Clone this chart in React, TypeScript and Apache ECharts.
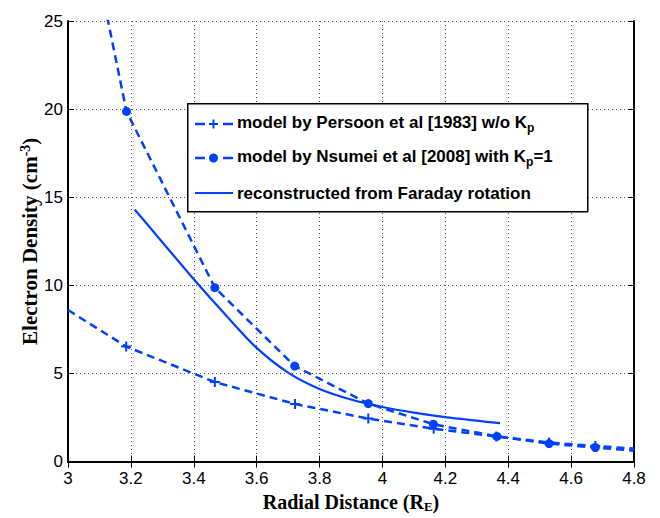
import React, { useEffect, useRef } from 'react';
import * as echarts from 'echarts';

// ---- data ----
const xTicks = [3, 4.8, 0.2]; // min, max, step
const yTicks = [0, 25, 5];

const persoonX = [3.0, 3.185, 3.467, 3.722, 3.955, 4.163, 4.362, 4.53, 4.677, 4.8];
const persoonY = [8.6, 6.53, 4.51, 3.27, 2.44, 1.86, 1.43, 1.08, 0.88, 0.74];
const persoonMarked = [false, true, true, true, true, true, true, true, true, false];

const nsumeiX = [3.1, 3.186, 3.467, 3.721, 3.955, 4.162, 4.364, 4.53, 4.677, 4.8];
const nsumeiY = [27.4, 19.87, 9.87, 5.42, 3.29, 2.12, 1.43, 1.02, 0.8, 0.62];
const nsumeiMarked = [false, true, true, true, true, true, true, true, true, false];

const faradayX = [3.212, 3.3, 3.4, 3.5, 3.6, 3.7, 3.8, 3.9, 4.0, 4.1, 4.2, 4.3, 4.374];
const faradayY = [14.3, 12.45, 10.35, 8.35, 6.45, 5.05, 4.12, 3.52, 3.1, 2.78, 2.52, 2.32, 2.18];

const seriesNames = ['persoon', 'nsumei', 'faraday'];
const legendLabels: Record<string, string> = {
  persoon: '{t|model by Persoon et al [1983] w/o K}{s|p}',
  nsumei: '{t|model by Nsumei et al [2008] with K}{s|p}{t|=1}',
  faraday: '{t|reconstructed from Faraday rotation}',
};

const BLUE = '#0040ff';
const PLUS = 'path://M4,0H6V4H10V6H6V10H4V6H0V4H4Z';

function buildData(xs: number[], ys: number[], marked?: boolean[]) {
  return xs.map((x, i) =>
    marked && !marked[i] ? { value: [x, ys[i]], symbol: 'none' } : { value: [x, ys[i]] }
  );
}

const fmt = (v: number) => String(Math.round(v * 10) / 10);

export default function App() {
  const ref = useRef<HTMLDivElement>(null);
  useEffect(() => {
    const chart = echarts.init(ref.current!, null, { renderer: 'svg' });
    const axisLine = { show: true, lineStyle: { color: '#000', width: 2 } };
    const axisTick = { show: true, inside: true, length: 6, lineStyle: { color: '#000', width: 1 } };
    const labelStyle = { color: '#000', fontSize: 17, fontFamily: 'Liberation Sans' };
    const split = { show: true, lineStyle: { type: [1, 3], color: '#555', width: 1 } };
    const titleStyle = (fs: number) => ({
      fontFamily: 'Liberation Serif',
      fontWeight: 'bold',
      fontSize: fs,
      color: '#000',
      rich: {
        t: { fontFamily: 'Liberation Serif', fontWeight: 'bold', fontSize: fs, color: '#000' },
        sup: { fontFamily: 'Liberation Serif', fontWeight: 'bold', fontSize: 14, color: '#000', verticalAlign: 'top', padding: [0, 0, 10, 0] },
        sub: { fontFamily: 'Liberation Serif', fontWeight: 'bold', fontSize: 13, color: '#000', verticalAlign: 'bottom', padding: [10, 0, 0, 0] },
      },
    });
    const legendText = {
      fontFamily: 'Liberation Sans', fontWeight: 'bold', fontSize: 17, color: '#000',
      rich: {
        t: { fontFamily: 'Liberation Sans', fontWeight: 'bold', fontSize: 17, color: '#000' },
        s: { fontFamily: 'Liberation Sans', fontWeight: 'bold', fontSize: 12, color: '#000', verticalAlign: 'bottom', padding: [11, 0, 0, 0] },
      },
    };
    // legend layout (decoration only)
    const rowY = [124, 158, 193];
    const legendRowTops = [114, 148, 185];
    const iconX0 = 195;
    const iconX1 = 233;
    const iconMid = 213.5;
    const legendIcons: any[] = [];
    rowY.forEach((y, i) => {
      if (i < 2) {
        legendIcons.push(
          { type: 'line', z: 12, shape: { x1: iconX0, y1: y, x2: iconX0 + 10, y2: y }, style: { stroke: BLUE, lineWidth: 2.5 } },
          { type: 'line', z: 12, shape: { x1: iconX1 - 10, y1: y, x2: iconX1, y2: y }, style: { stroke: BLUE, lineWidth: 2.5 } }
        );
      } else {
        legendIcons.push({ type: 'line', z: 12, shape: { x1: iconX0, y1: y, x2: iconX1, y2: y }, style: { stroke: BLUE, lineWidth: 2.2 } });
      }
    });
    legendIcons.push(
      { type: 'line', z: 12, shape: { x1: iconMid - 4.5, y1: rowY[0], x2: iconMid + 4.5, y2: rowY[0] }, style: { stroke: BLUE, lineWidth: 2 } },
      { type: 'line', z: 12, shape: { x1: iconMid, y1: rowY[0] - 4.5, x2: iconMid, y2: rowY[0] + 4.5 }, style: { stroke: BLUE, lineWidth: 2 } },
      { type: 'circle', z: 12, shape: { cx: iconMid, cy: rowY[1], r: 4.5 }, style: { fill: BLUE } }
    );
    chart.setOption({
      animation: false,
      backgroundColor: '#fff',
      grid: { left: 68, right: 26, top: 21, bottom: 53, containLabel: false },
      xAxis: [
        {
          type: 'value', min: xTicks[0], max: xTicks[1], interval: xTicks[2], position: 'bottom',
          axisLine, axisTick, axisLabel: { ...labelStyle, margin: 8, formatter: fmt }, splitLine: split,
          name: '{t|Radial Distance (R}{sub|E}{t|)}', nameLocation: 'middle', nameGap: 27, nameTextStyle: titleStyle(20),
        },
        {
          type: 'value', min: xTicks[0], max: xTicks[1], interval: xTicks[2], position: 'top',
          axisLine, axisTick, axisLabel: { show: false }, splitLine: { show: false },
        },
      ],
      yAxis: [
        {
          type: 'value', min: yTicks[0], max: yTicks[1], interval: yTicks[2], position: 'left',
          axisLine, axisTick, axisLabel: { ...labelStyle, margin: 5, formatter: fmt }, splitLine: split,
          name: '{t|Electron Density (cm}{sup|-3}{t|)}', nameLocation: 'middle', nameGap: 26, nameRotate: 90,
          nameMoveOverlap: false,
          nameTextStyle: titleStyle(21),
        },
        {
          type: 'value', min: yTicks[0], max: yTicks[1], interval: yTicks[2], position: 'right',
          axisLine, axisTick, axisLabel: { show: false }, splitLine: { show: false },
        },
      ],
      graphic: [
        {
          type: 'rect', z: 10, left: 187, top: 103,
          shape: { width: 400, height: 108 },
          style: { fill: '#fff', stroke: '#000', lineWidth: 1.5 },
        },
        ...legendIcons,
      ],
      legend: seriesNames.map((n, i) => ({
        z: 11,
        orient: 'vertical', left: 194, top: legendRowTops[i], padding: 0,
        itemWidth: 38, itemHeight: 10,
        data: [{ name: n, icon: 'none' }],
        formatter: (name: string) => legendLabels[name],
        textStyle: legendText,
      })),
      series: [
        {
          name: seriesNames[0], type: 'line', xAxisIndex: 0, yAxisIndex: 0,
          data: buildData(persoonX, persoonY, persoonMarked),
          symbol: PLUS, symbolSize: 10, showAllSymbol: true,
          itemStyle: { color: BLUE },
          lineStyle: { color: BLUE, width: 2.5, type: [8, 5] },
        },
        {
          name: seriesNames[1], type: 'line', xAxisIndex: 0, yAxisIndex: 0,
          data: buildData(nsumeiX, nsumeiY, nsumeiMarked),
          symbol: 'circle', symbolSize: 9, showAllSymbol: true,
          itemStyle: { color: BLUE },
          lineStyle: { color: BLUE, width: 2.5, type: [8, 5] },
        },
        {
          name: seriesNames[2], type: 'line', xAxisIndex: 0, yAxisIndex: 0,
          data: buildData(faradayX, faradayY),
          symbol: 'none', smooth: 0.3,
          itemStyle: { color: BLUE },
          lineStyle: { color: BLUE, width: 2.2, type: 'solid' },
        },
      ],
    });
    return () => chart.dispose();
  }, []);
  return (
    <div
      ref={ref}
      style={{ position: 'fixed', left: 0, top: 0, width: 660, height: 518, background: '#fff' }}
    />
  );
}
